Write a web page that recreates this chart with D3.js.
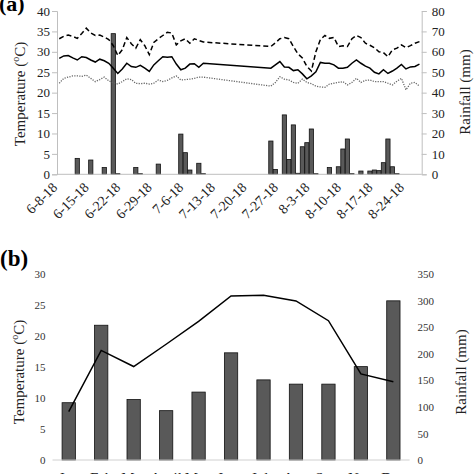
<!DOCTYPE html>
<html><head><meta charset="utf-8">
<script src="https://cdn.jsdelivr.net/npm/d3@7"></script>
<style>body{margin:0;background:#fff}svg{display:block}text{font-family:"Liberation Serif","Times New Roman",serif}</style>
</head><body><svg id="c" width="474" height="474"></svg>
<script>
// ---------- Panel (a): daily data, 6-8-18 .. 8-27-18 (81 days) ----------
const nDays = 81;
const dateTicks = ["6-8-18","6-15-18","6-22-18","6-29-18","7-6-18","7-13-18","7-20-18","7-27-18","8-3-18","8-10-18","8-17-18","8-24-18"];
// day index -> value ; null = no record (line is joined across the gap)
const tMax = [33.2,33.8,34.1,33.8,33.3,34.5,35.8,34.6,34.0,34.1,33.6,33.0,31.5,29.1,30.5,33.5,32.0,30.9,33.0,31.5,29.3,32.3,33.2,34.0,34.8,34.6,31.7,32.7,33.2,32.1,33.2,32.8,32.4,
  null,null,null,null,null,null,null,null,null,null,null,null,null,null,
  31.3,32.2,33.2,33.5,33.2,31.3,29.5,28.5,26.4,25.3,30.0,33.0,34.0,33.3,33.5,31.3,31.5,31.3,33.2,34.0,33.5,32.1,31.6,31.0,30.0,29.8,28.8,30.5,30.9,31.7,31.0,31.5,32.1,32.5];
const tMean = [28.4,29.0,29.1,28.5,28.0,28.8,28.6,28.0,27.5,28.2,27.8,27.2,26.0,24.7,25.8,27.2,26.4,26.2,26.7,26.0,25.2,26.8,27.8,28.8,28.7,28.8,27.0,25.6,26.0,27.0,27.1,26.2,27.2,
  null,null,null,null,null,null,null,null,null,null,null,null,null,null,
  26.0,26.8,27.6,26.3,26.2,25.4,25.6,24.6,23.4,24.1,25.1,27.4,27.2,27.2,26.8,26.0,26.0,26.2,27.2,28.0,27.2,26.5,26.0,25.0,24.6,25.6,24.7,25.3,26.0,26.9,25.8,26.3,26.4,27.0];
const tMin = [22.3,23.5,23.8,24.1,24.1,24.0,24.3,23.5,22.7,23.2,23.8,22.9,22.4,22.1,22.7,23.4,23.2,22.3,22.2,22.3,22.1,22.3,23.1,22.7,23.0,23.6,24.1,23.1,23.2,23.3,23.5,23.8,23.8,
  null,null,null,null,null,null,null,null,null,null,null,null,null,null,
  21.6,22.5,23.9,23.3,23.1,22.5,22.3,23.3,22.5,22.2,21.6,21.4,21.3,22.1,22.3,22.5,22.7,21.9,22.5,23.5,22.5,23.0,23.1,22.7,22.7,22.7,22.3,21.9,22.8,23.5,20.7,22.3,22.5,21.6];
// rainfall days (day index) and mm
const rainDay = [4,7,10,12,13,17,18,22,27,28,29,31,32,47,48,50,51,52,53,54,55,56,57,60,62,63,64,65,67,69,70,71,72,73,74,75];
const rainMm  = [7.8,7.0,3.3,68.9,0.3,3.3,0.3,5.0,19.7,10.6,2.1,5.4,0.3,16.3,2.4,29.1,7.3,24.2,0.5,13.5,15.5,22.2,0.3,3.3,3.7,12.4,17.3,0.3,1.6,1.6,2.1,1.8,5.7,17.3,3.7,0.3];
const tTicksA = [0,5,10,15,20,25,30,35,40];
const rTicksA = [0,10,20,30,40,50,60,70,80];

// ---------- Panel (b): monthly ----------
const months = ["Jan","Feb","Mar","April","May","June","July","Aug","Sept","Nov","Dec"];
const monthTemp = [7.8,17.7,15.1,18.7,22.4,26.5,26.6,25.7,22.5,13.9,12.65];
const monthRain = [108,254,114,93,128,202,151,143,143,176,300];
const tTicksB = [0,5,10,15,20,25,30];
const rTicksB = [0,50,100,150,200,250,300,350];

const svg = d3.select("#c");
const gridGrey = "#bfbfbf", barFill = "#595959";

// ===== Panel (a) =====
const ax0 = 57, ax1 = 421.7, ayTop = 11, ayBot = 174.3;
const dayIdx = d3.range(nDays);
const xa = d3.scaleBand().domain(dayIdx).range([ax0, ax1]).paddingInner(0.06).paddingOuter(0.03);
const xc = i => xa(i) + xa.bandwidth() / 2;
const yT = d3.scaleLinear().domain([0, 40]).range([ayBot, ayTop]);
const yR = d3.scaleLinear().domain([0, 80]).range([ayBot, ayTop]);

const gA = svg.append("g");
gA.selectAll("rect.rain").data(rainDay.map((d, k) => ({d, v: rainMm[k]}))).join("rect")
  .attr("x", d => xa(d.d)).attr("width", xa.bandwidth())
  .attr("y", d => yR(d.v)).attr("height", d => ayBot - yR(d.v))
  .attr("fill", barFill).attr("stroke", "#111").attr("stroke-width", 0.8);

const leftA = gA.append("g").attr("transform", `translate(${ax0},0)`)
  .call(d3.axisLeft(yT).tickValues(tTicksA).tickSize(5).tickPadding(2).tickFormat(d3.format("d")));
const rightA = gA.append("g").attr("transform", `translate(${ax1},0)`)
  .call(d3.axisRight(yR).tickValues(rTicksA).tickSize(5).tickPadding(5).tickFormat(d3.format("d")));
[leftA, rightA].forEach(g => {
  g.select(".domain").attr("stroke", gridGrey);
  g.selectAll(".tick line").attr("stroke", gridGrey);
  g.selectAll("text").attr("font-size", 13).attr("fill", "#222").attr("font-family", "Liberation Serif");
});
gA.append("line").attr("x1", ax0).attr("x2", ax1).attr("y1", ayBot).attr("y2", ayBot).attr("stroke", gridGrey);

gA.selectAll("text.xl").data(dateTicks).join("text")
  .attr("transform", (d, k) => `translate(${xc(k * 7) - 1},${ayBot + 14}) rotate(-45)`)
  .attr("text-anchor", "end").attr("font-size", 14).attr("fill", "#222").text(d => d);

function drawLine(vals, style) {
  const pts = vals.map((v, i) => [i, v]).filter(p => p[1] !== null);
  const line = d3.line().x(p => xc(p[0])).y(p => yT(p[1]));
  const p = gA.append("path").attr("d", line(pts)).attr("fill", "none");
  Object.entries(style).forEach(([k, v]) => p.attr(k, v));
}
drawLine(tMin, {stroke: "#666", "stroke-width": 1.3, "stroke-dasharray": "1.2,1.3"});
drawLine(tMean, {stroke: "#000", "stroke-width": 1.5});
drawLine(tMax, {stroke: "#000", "stroke-width": 1.5, "stroke-dasharray": "5,3"});

function tempTitle(g, x, y) {
  const t = g.append("text").attr("transform", `translate(${x},${y}) rotate(-90)`)
    .attr("text-anchor", "middle").attr("font-size", 15).attr("fill", "#222");
  t.append("tspan").text("Temperature (");
  t.append("tspan").attr("font-size", 10).attr("dy", -6).text("o");
  t.append("tspan").attr("dy", 6).text("C)");
}
tempTitle(gA, 25, 94);
gA.append("text").attr("transform", `translate(470,92) rotate(-90)`).attr("text-anchor", "middle")
  .attr("font-size", 15).attr("fill", "#222").text("Rainfall (mm)");
svg.append("text").attr("x", -1).attr("y", 11).attr("font-size", 22).attr("font-weight", "bold").text("(a)");

// ===== Panel (b) =====
const bx0 = 52.5, bx1 = 409.6, byTop = 274.3, byBot = 460;
const xb = d3.scaleBand().domain(months).range([bx0, bx1]).paddingInner(0.59).paddingOuter(0.295);
const yTb = d3.scaleLinear().domain([0, 30]).range([byBot, byTop]);
const yRb = d3.scaleLinear().domain([0, 350]).range([byBot, byTop]);
const gB = svg.append("g");
gB.selectAll("rect").data(months).join("rect")
  .attr("x", d => xb(d)).attr("width", xb.bandwidth())
  .attr("y", (d, k) => yRb(monthRain[k])).attr("height", (d, k) => byBot - yRb(monthRain[k]))
  .attr("fill", barFill).attr("stroke", "#111").attr("stroke-width", 0.8);
gB.append("line").attr("x1", bx0).attr("x2", bx1).attr("y1", byBot).attr("y2", byBot).attr("stroke", "#d0d0d0");

const leftB = gB.append("g").attr("transform", `translate(${bx0 - 7},0)`)
  .call(d3.axisLeft(yTb).tickValues(tTicksB).tickSize(0).tickPadding(0).tickFormat(d3.format("d")));
const rightB = gB.append("g").attr("transform", `translate(${bx1 + 8},0)`)
  .call(d3.axisRight(yRb).tickValues(rTicksB).tickSize(0).tickPadding(0).tickFormat(d3.format("d")));
[leftB, rightB].forEach(g => {
  g.select(".domain").remove();
  g.selectAll("text").attr("font-size", 11).attr("fill", "#333").attr("font-family", "Liberation Serif");
});
gB.selectAll("text.ml").data(months).join("text")
  .attr("x", d => xb(d) + xb.bandwidth() / 2).attr("y", 483)
  .attr("text-anchor", "middle").attr("font-size", 15).attr("fill", "#222").text(d => d);

const lineB = d3.line().x((d, k) => xb(months[k]) + xb.bandwidth() / 2).y(d => yTb(d));
gB.append("path").attr("d", lineB(monthTemp)).attr("fill", "none").attr("stroke", "#000").attr("stroke-width", 1.5);

tempTitle(gB, 24, 372);
gB.append("text").attr("transform", `translate(466,372) rotate(-90)`).attr("text-anchor", "middle")
  .attr("font-size", 15).attr("fill", "#222").text("Rainfall (mm)");
svg.append("text").attr("x", 0).attr("y", 266).attr("font-size", 23).attr("font-weight", "bold").text("(b)");
</script></body></html>
